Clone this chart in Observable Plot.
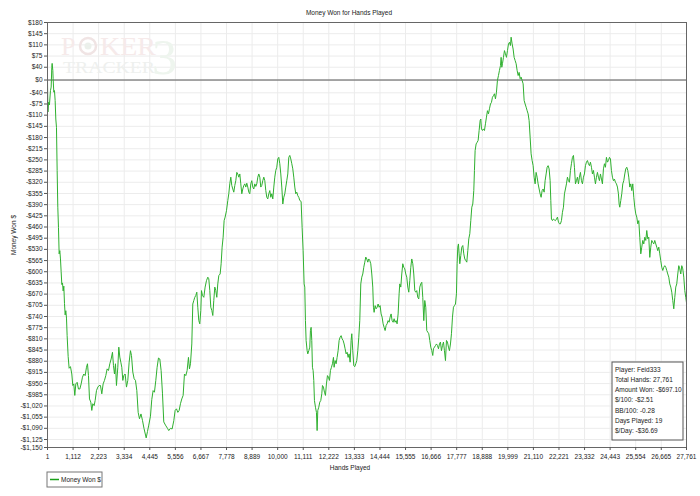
<!DOCTYPE html>
<html><head><meta charset="utf-8">
<script src="https://cdn.jsdelivr.net/npm/d3@7"></script>
<script src="https://cdn.jsdelivr.net/npm/@observablehq/plot@0.6"></script>
<style>body{margin:0;background:#fff}#chart{width:700px;height:496px}</style>
</head><body><div id="chart"></div>
<script>
const title = "Money Won for Hands Played";
const xLabel = "Hands Played";
const yLabel = "Money Won $";
const seriesName = "Money Won $";
const xTicks = [1,1112,2223,3334,4445,5556,6667,7778,8889,10000,11111,12222,13333,14444,15555,16666,17777,18888,19999,21110,22221,23332,24443,25554,26665,27761];
const yTicks = [180,145,110,75,40,0,-40,-75,-110,-145,-180,-215,-250,-285,-320,-355,-390,-425,-460,-495,-530,-565,-600,-635,-670,-705,-740,-775,-810,-845,-880,-915,-950,-985,-1020,-1055,-1090,-1125,-1150];
const stats = ["Player: Feid333","Total Hands: 27,761","Amount Won: -$697.10","$/100: -$2.51","BB/100: -0.28","Days Played: 19","$/Day: -$36.69"];

// [hands played, cumulative $ won]
const moneyWon = [
[1,0],[20,-100],[45,-70],[85,-78],[130,-33],[160,-22],[188,40],[203,52],[232,30],[246,4],[275,-38],[304,-33],[333,-64],[362,-122],[391,-148],[420,-283],[449,-398],[478,-461],[507,-544],[536,-534],[565,-560],[594,-600],[623,-640],[652,-635],[681,-660],[710,-645],[739,-700],[768,-735],[797,-722],[826,-745],[854,-800],[898,-865],[941,-902],[999,-897],[1057,-920],[1100,-956],[1144,-951],[1187,-987],[1231,-951],[1289,-946],[1347,-967],[1405,-967],[1463,-951],[1520,-930],[1578,-920],[1636,-925],[1694,-899],[1738,-888],[1781,-925],[1825,-998],[1882,-1008],[1926,-1034],[1969,-1013],[2027,-1019],[2071,-1003],[2129,-972],[2187,-961],[2244,-956],[2302,-956],[2360,-982],[2418,-951],[2476,-940],[2534,-925],[2592,-904],[2650,-909],[2708,-888],[2766,-873],[2824,-852],[2867,-894],[2911,-920],[2954,-888],[2997,-956],[3055,-899],[3099,-836],[3142,-867],[3186,-883],[3229,-899],[3273,-940],[3316,-925],[3374,-920],[3432,-961],[3490,-940],[3548,-883],[3606,-847],[3649,-862],[3707,-914],[3765,-935],[3823,-940],[3881,-972],[3940,-1040],[3997,-1060],[4062,-1045],[4127,-1065],[4192,-1090],[4288,-1120],[4344,-1100],[4400,-1080],[4474,-1052],[4531,-1000],[4589,-972],[4647,-977],[4706,-940],[4763,-899],[4822,-870],[4880,-873],[4937,-909],[4995,-980],[5052,-1070],[5126,-1080],[5213,-1090],[5269,-1097],[5343,-1090],[5415,-1092],
[5488,-1066],[5546,-1034],[5604,-1029],[5662,-1040],[5720,-1034],[5777,-1013],[5835,-998],[5893,-987],[5951,-920],[6009,-925],[6067,-909],[6125,-868],[6168,-904],[6212,-888],[6270,-826],[6313,-701],[6357,-690],[6400,-680],[6444,-674],[6487,-664],[6530,-711],[6574,-753],[6617,-763],[6661,-721],[6690,-659],[6733,-674],[6791,-680],[6849,-648],[6907,-628],[6965,-617],[7008,-622],[7052,-659],[7095,-711],[7139,-721],[7182,-737],[7225,-690],[7269,-648],[7312,-659],[7356,-680],[7399,-638],[7443,-612],[7501,-607],[7544,-575],[7587,-523],[7631,-492],[7674,-440],[7718,-429],[7776,-409],[7834,-377],[7877,-356],[7920,-325],[7964,-304],[8007,-330],[8051,-341],[8094,-351],[8138,-330],[8181,-315],[8225,-289],[8268,-294],[8312,-304],[8355,-294],[8398,-325],[8442,-356],[8485,-341],[8529,-330],[8572,-325],[8616,-335],[8659,-323],[8702,-335],[8746,-351],[8789,-356],[8833,-325],[8876,-315],[8920,-335],[8963,-341],[9006,-325],[9050,-333],[9093,-325],[9137,-304],[9180,-294],[9224,-304],[9267,-335],[9310,-330],[9354,-315],[9397,-304],[9441,-315],[9484,-346],[9528,-367],[9571,-372],[9614,-356],[9658,-346],[9701,-367],[9745,-356],[9788,-372],[9832,-335],[9875,-304],[9918,-283],[9962,-273],[10005,-247],[10049,-242],[10092,-262],[10136,-294],[10179,-335],[10223,-388],[10266,-367],[10310,-356],[10353,-335],[10396,-315],[10440,-294],[10483,-242],[10527,-236],[10570,-247],[10614,-262],[10657,-278],[10700,-304],[10744,-335],[10787,-356],[10831,-351],[10874,-362],[10918,-367],[10961,-377],
[11019,-380],[11062,-461],[11106,-534],[11149,-638],[11178,-648],[11207,-753],[11236,-815],[11280,-847],[11309,-857],[11352,-847],[11395,-836],[11424,-784],[11453,-774],[11482,-815],[11511,-899],[11540,-909],[11569,-940],[11598,-1003],[11642,-1024],[11685,-1040],[11714,-1097],[11743,-1034],[11786,-1024],[11830,-1008],[11873,-1003],[11917,-982],[11946,-956],[11989,-961],[12033,-977],[12076,-987],[12119,-951],[12163,-925],[12206,-930],[12250,-940],[12293,-909],[12337,-899],[12380,-888],[12424,-868],[12452,-899],[12496,-878],[12539,-888],[12583,-868],[12626,-847],[12670,-815],[12713,-805],[12757,-800],[12800,-810],[12843,-815],[12887,-826],[12930,-841],[12974,-857],[13017,-852],[13061,-868],[13104,-857],[13148,-883],[13191,-815],[13220,-794],[13263,-847],[13307,-894],[13350,-897],[13394,-888],[13437,-878],[13481,-847],[13524,-805],[13567,-753],[13611,-638],[13654,-617],[13698,-607],[13741,-586],[13785,-570],[13828,-554],[13872,-560],[13915,-570],[13958,-560],[14002,-565],[14045,-575],[14089,-607],[14132,-648],[14161,-711],[14190,-727],[14234,-706],[14277,-716],[14321,-711],[14364,-701],[14407,-711],[14451,-706],[14494,-732],[14538,-742],[14581,-763],[14625,-774],[14668,-784],[14712,-768],[14755,-763],[14798,-753],[14842,-758],[14885,-742],[14929,-732],[14972,-753],[15016,-758],[15059,-747],[15102,-758],[15146,-753],[15189,-763],[15233,-732],[15276,-669],[15305,-638],[15349,-648],[15392,-607],[15435,-575],[15479,-586],[15522,-591],[15566,-607],[15609,-617],[15653,-648],[15696,-664],[15740,-628],[15783,-586],[15826,-560],[15870,-575],[15913,-607],[15957,-659],[16000,-664],[16043,-659],[16087,-680],[16130,-685],[16174,-648],[16217,-638],[16261,-633],[16304,-680],[16348,-753],[16391,-690],[16434,-711],[16478,-784],[16521,-789],[16565,-794],[16608,-815],[16652,-836],[16695,-847],[16738,-862],
[16768,-841],[16812,-836],[16855,-831],[16899,-826],[16942,-831],[16986,-841],[17029,-826],[17072,-820],[17116,-847],[17159,-831],[17203,-820],[17246,-847],[17290,-878],[17333,-815],[17376,-820],[17420,-836],[17463,-847],[17507,-826],[17550,-794],[17594,-742],[17637,-711],[17680,-706],[17724,-701],[17767,-669],[17796,-575],[17825,-523],[17854,-513],[17883,-544],[17912,-575],[17956,-549],[17999,-523],[18043,-518],[18086,-544],[18129,-560],[18173,-565],[18216,-570],[18260,-534],[18303,-497],[18347,-481],[18390,-440],[18434,-398],[18477,-388],[18520,-346],[18549,-283],[18578,-221],[18622,-200],[18665,-195],[18709,-189],[18752,-158],[18796,-127],[18825,-122],[18854,-153],[18897,-158],[18940,-153],[18984,-158],[19027,-137],[19071,-116],[19114,-96],[19158,-106],[19201,-90],[19245,-75],[19288,-70],[19331,-54],[19375,-49],[19418,-43],[19462,-59],[19505,-38],[19548,-1],[19592,14],[19635,30],[19679,45],[19708,71],[19737,40],[19766,51],[19809,71],[19853,92],[19896,82],[19940,71],[19983,92],[20027,113],[20070,118],[20113,108],[20142,134],[20186,113],[20229,97],[20273,71],[20316,61],[20360,51],[20403,30],[20447,14],[20490,24],[20534,4],[20577,9],[20620,-1],[20664,-12],[20707,-64],[20751,-75],[20794,-85],[20838,-96],[20881,-106],[20924,-127],[20968,-179],[21011,-231],[21055,-252],[21098,-268],[21141,-304],[21185,-325],[21228,-289],[21272,-304],[21315,-325],[21359,-341],[21402,-356],[21446,-367],[21489,-346],[21532,-341],[21576,-351],[21619,-315],[21663,-294],[21706,-273],[21750,-268],[21793,-278],[21837,-315],[21866,-377],[21894,-435],[21938,-440],[21981,-435],[22025,-438],[22068,-440],[22112,-435],[22155,-429],[22199,-445],[22242,-450],
[22285,-450],[22328,-440],[22372,-414],[22415,-398],[22459,-356],[22502,-341],[22546,-325],[22589,-304],[22632,-315],[22676,-320],[22719,-283],[22763,-262],[22806,-242],[22850,-236],[22893,-273],[22937,-325],[22980,-315],[23023,-304],[23067,-325],[23110,-304],[23154,-289],[23197,-315],[23241,-325],[23284,-304],[23327,-294],[23371,-268],[23414,-257],[23458,-252],[23501,-262],[23545,-268],[23588,-257],[23632,-273],[23675,-294],[23718,-283],[23762,-304],[23805,-325],[23849,-304],[23892,-289],[23936,-304],[23979,-315],[24023,-294],[24066,-310],[24109,-325],[24153,-278],[24196,-262],[24240,-273],[24283,-242],[24327,-257],[24370,-252],[24414,-242],[24457,-247],[24500,-283],[24544,-304],[24587,-315],[24631,-310],[24674,-320],[24718,-325],[24761,-335],[24804,-356],[24834,-388],[24862,-398],[24906,-377],[24949,-356],[24993,-325],[25036,-315],[25080,-294],[25123,-278],[25166,-273],[25210,-283],[25253,-304],[25297,-335],[25340,-325],[25384,-346],[25427,-325],[25471,-367],[25514,-398],[25557,-419],[25601,-429],[25644,-450],[25688,-440],[25731,-492],[25775,-544],[25818,-523],[25861,-502],[25905,-513],[25948,-492],[25992,-502],[26035,-471],[26079,-497],[26122,-492],[26166,-555],[26209,-523],[26252,-502],[26296,-508],[26339,-513],[26383,-502],[26426,-513],[26470,-523],[26513,-534],[26557,-523],[26600,-544],[26643,-565],[26687,-586],[26730,-596],[26774,-586],[26817,-581],[26861,-586],[26904,-596],[26947,-607],[26991,-617],[27034,-638],[27078,-648],[27121,-664],[27165,-690],[27208,-716],[27252,-680],[27295,-648],[27338,-638],[27382,-607],[27425,-581],[27469,-591],[27512,-607],[27556,-581],[27599,-591],[27643,-617],[27686,-659],[27729,-680],[27761,-697]
];

const data = moneyWon.map(([hands, won]) => ({hands, won}));
const money = v => (v < 0 ? "-" : "") + "$" + d3.format(",")(Math.abs(v));
const FONT = "'Liberation Sans', Arial, sans-serif";

const chart = Plot.plot({
  width: 700, height: 496,
  marginLeft: 47, marginRight: 14, marginTop: 22, marginBottom: 49,
  style: {fontFamily: FONT, fontSize: "6.5px", color: "#222", background: "#fff", overflow: "visible"},
  x: {domain: [1, 27761], label: null},
  y: {domain: [-1150, 180], label: null},
  marks: [
    Plot.gridX(xTicks, {stroke: "#ececec", strokeOpacity: 1}),
    Plot.gridY(yTicks, {stroke: "#ececec", strokeOpacity: 1}),
    Plot.ruleY([0], {stroke: "#555", strokeWidth: 1}),
    Plot.line(data, {x: "hands", y: "won", stroke: "#2fb02f", strokeWidth: 1}),
    Plot.frame({stroke: "#666"}),
    Plot.axisX(xTicks, {tickFormat: d3.format(","), tickSize: 3, tickPadding: 4, stroke: "#555", fill: "#222"}),
    Plot.axisY(yTicks, {tickFormat: money, tickSize: 3, tickPadding: 2, stroke: "#555", fill: "#222"})
  ]
});
document.getElementById("chart").appendChild(chart);

const svg = d3.select(chart);
// watermark, drawn after the grid and before the zero rule and the line
const wmNode = document.createElementNS("http://www.w3.org/2000/svg", "g");
const ruleIndex = Array.from(chart.children).findIndex(n => n.getAttribute("aria-label") === "rule");
chart.insertBefore(wmNode, ruleIndex >= 0 ? chart.children[ruleIndex] : null);
const wm = d3.select(wmNode).attr("font-family", "'Liberation Serif', 'DejaVu Serif', serif").attr("text-anchor", "start");
wm.append("text").attr("x", 61).attr("y", 55).attr("font-size", 26).attr("fill", "#f6eaea").text("P");
wm.append("circle").attr("cx", 88).attr("cy", 46).attr("r", 8).attr("fill", "none").attr("stroke", "#f0e4e4").attr("stroke-width", 2.5);
wm.append("circle").attr("cx", 88).attr("cy", 46).attr("r", 3.5).attr("fill", "#ebf0eb");
wm.append("text").attr("x", 100).attr("y", 55).attr("font-size", 26).attr("fill", "#f6eaea").attr("textLength", 56).attr("lengthAdjust", "spacingAndGlyphs").text("KER");
wm.append("text").attr("x", 152).attr("y", 74).attr("font-size", 50).attr("fill", "#eef5ee").text("3");
wm.append("text").attr("x", 63).attr("y", 73).attr("font-size", 17).attr("fill", "#eef0ee").attr("textLength", 92).attr("lengthAdjust", "spacingAndGlyphs").text("TRACKER");

const txt = (x, y, s, anchor = "middle") => svg.append("text").attr("x", x).attr("y", y)
  .attr("text-anchor", anchor).attr("font-family", FONT).attr("font-size", "6.5px").attr("fill", "#222").text(s);
txt(349, 15, title);
txt(350, 470, xLabel);
svg.append("text").attr("transform", "translate(16,235) rotate(-90)").attr("text-anchor", "middle")
  .attr("font-family", FONT).attr("font-size", "6.5px").attr("fill", "#222").text(yLabel);

// stats box
svg.append("rect").attr("x", 612).attr("y", 362).attr("width", 71).attr("height", 78)
  .attr("fill", "#fff").attr("stroke", "#555");
stats.forEach((s, i) => txt(615, 371.5 + i * 10.3, s, "start"));

// legend
svg.append("rect").attr("x", 47).attr("y", 472).attr("width", 55).attr("height", 15)
  .attr("fill", "#fff").attr("stroke", "#777");
svg.append("line").attr("x1", 50).attr("x2", 59).attr("y1", 479.5).attr("y2", 479.5)
  .attr("stroke", "#1aa01a").attr("stroke-width", 1.5);
txt(61, 482, seriesName, "start");
</script></body></html>
